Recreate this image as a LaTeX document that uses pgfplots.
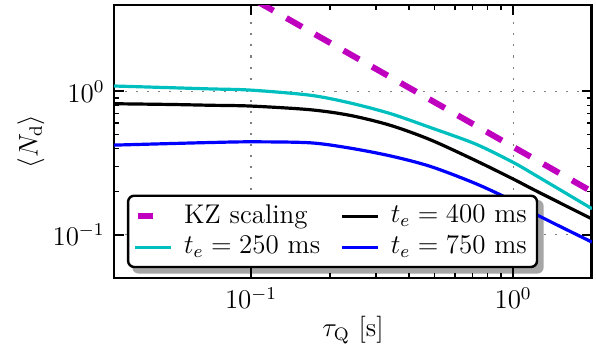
\documentclass[12pt,border=0pt]{standalone}
\usepackage{graphicx}
\usepackage{pgfplots}
\pgfplotsset{compat=1.18}
\usepackage{pgfplotstable}
\usetikzlibrary{backgrounds}
\definecolor{mplm}{rgb}{0.75,0,0.75}
\definecolor{mplc}{rgb}{0,0.75,0.75}
\pgfplotstableread{
x      cyan   black  blue
0.03   1.09   0.82   0.422
0.05   1.06   0.81   0.433
0.07   1.04   0.80   0.440
0.1    1.02   0.79   0.445
0.168  0.94   0.745  0.438
0.239  0.83   0.68   0.402
0.34   0.70   0.58   0.355
0.483  0.56   0.46   0.30
0.718  0.43   0.33   0.228
1.0    0.32   0.245  0.172
1.24   0.255  0.20   0.137
2.0    0.152  0.129  0.089
}\curves
\begin{document}
\scalebox{1.125}{%
\begin{tikzpicture}
\path[use as bounding box] (-50.67pt,-31.11pt) rectangle (214.22pt,123.56pt);
\begin{axis}[
  at={(0,0)}, anchor=south west,
  scale only axis, width=212.44pt, height=121.33pt,
  xmode=log, ymode=log,
  xmin=0.03, xmax=2, ymin=0.05, ymax=4,
  xtick={0.1,1}, ytick={0.1,1},
  axis line style={line width=1.33pt},
  every tick/.style={black, line width=0.9pt},
  major tick length=4.44pt, minor tick length=2.22pt,
  every minor tick/.style={black, line width=0.62pt},
  grid=major,
  major grid style={gray, line width=0.53pt, dash pattern=on 0.9pt off 4pt},
  xlabel={$\tau_{\mathrm{Q}}$ [s]},
  ylabel={$\langle N_{\mathrm{d}}\rangle$},
  every axis x label/.style={at={([yshift=-23.1pt]axis description cs:0.5,0)}, anchor=center},
  every axis y label/.style={at={([xshift=-36.9pt]axis description cs:0,0.5)}, anchor=center, rotate=90},
  legend columns=2,
  legend cell align=left,
  legend style={name=leg, at={(0.027,0.036)}, anchor=south west, draw=black, line width=1.07pt,
    rounded corners=2.7pt, fill=white,
    inner xsep=2.5pt, inner ysep=2pt,
    /tikz/every odd column/.append style={column sep=3pt},
    /tikz/every even column/.append style={column sep=7pt},
    nodes={inner sep=2pt}, row sep=0pt},
  legend image code/.code={\draw[#1] (0pt,0pt) -- (16pt,0pt);},
]
\addplot[mplm, line width=2.67pt, dash pattern=on 8pt off 6.6pt,
  legend image code/.code={\draw[mplm, line width=2.67pt, solid] (1pt,0pt) -- (8pt,0pt);}]
  coordinates {(0.05,9.2) (2,0.2)};
\addlegendentry{KZ scaling}
\addplot[black, line width=1.42pt, smooth] table[x=x, y=black] {\curves};
\addlegendentry{$t_e = 400$ ms}
\addplot[mplc, line width=1.42pt, smooth] table[x=x, y=cyan] {\curves};
\addlegendentry{$t_e = 250$ ms}
\addplot[blue, line width=1.42pt, smooth] table[x=x, y=blue] {\curves};
\addlegendentry{$t_e = 750$ ms}
\end{axis}
\begin{scope}[on background layer]
\fill[gray!70, rounded corners=2.7pt] ([shift={(2.4pt,-2.4pt)}]leg.south west) rectangle ([shift={(2.4pt,-2.4pt)}]leg.north east);
\end{scope}
\end{tikzpicture}}
\end{document}
